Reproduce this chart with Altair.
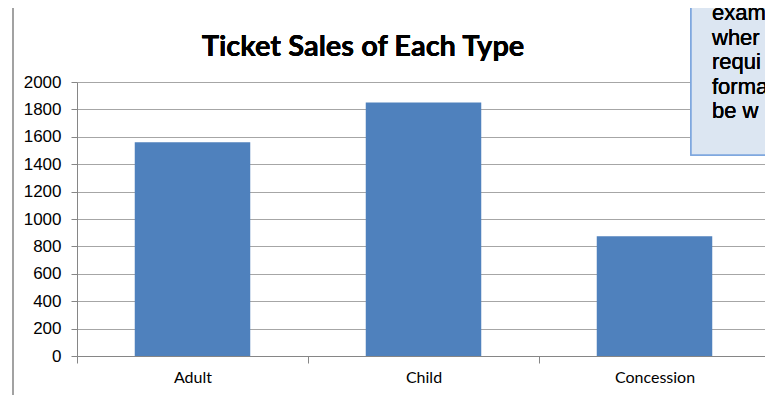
import altair as alt
import pandas as pd

categories = ["Adult", "Child", "Concession"]
sales = [1560, 1850, 875]
y_ticks = [0, 200, 400, 600, 800, 1000, 1200, 1400, 1600, 1800, 2000]
title_text = "Ticket Sales of Each Type"
textbox_lines = ["exam", "wher", "requi", "forma", "be w"]

df = pd.DataFrame({"type": categories, "sales": sales})

GRID = "#a6a6a6"
AXIS = "#868686"

base = alt.Chart(df)

bars = base.mark_bar(color="#4f81bd", width={"band": 0.5}).encode(
    x=alt.X(
        "type:N",
        sort=categories,
        scale=alt.Scale(paddingInner=0, paddingOuter=0, range=[0, 693]),
        axis=alt.Axis(
            title=None,
            labelAngle=0,
            labelFont="Lato",
            labelFontSize=16,
            labelColor="#000000",
            labelPadding=6,
            tickSize=7,
            tickColor=AXIS,
            tickBand="extent",
            domainColor=AXIS,
            grid=False,
        ),
    ),
    y=alt.Y(
        "sales:Q",
        scale=alt.Scale(domain=[0, 2000], nice=False),
        axis=alt.Axis(
            title=None,
            values=y_ticks,
            format="d",
            labelFont="Liberation Sans",
            labelFontSize=17,
            labelColor="#000000",
            labelPadding=10,
            tickSize=6,
            tickColor=AXIS,
            domainColor=AXIS,
            gridColor=GRID,
            gridWidth=1.2,
        ),
    ),
)

frame = base.mark_rule(color="#a0a0a0", strokeWidth=1.5).encode(
    x=alt.value(-64), y=alt.value(-80), y2=alt.value(330)
)

title = base.mark_text(
    font="Lato", fontSize=29, fontWeight="bold", color="#000000",
    align="center", baseline="alphabetic",
).encode(x=alt.value(286), y=alt.value(-26), text=alt.value(title_text))

box = base.mark_rect(fill="#dce6f2", stroke="#7ea6de", strokeWidth=1.5).encode(
    x=alt.value(614), x2=alt.value(720), y=alt.value(-90), y2=alt.value(73)
)

box_text = base.mark_text(
    font="Liberation Sans", fontSize=22, color="#000000",
    align="left", baseline="alphabetic", lineBreak="\n", lineHeight=24.6,
).encode(x=alt.value(635), y=alt.value(-62), text=alt.value("\n".join(textbox_lines)))

chart = alt.layer(bars, frame, title, box, box_text).properties(
    width=688,
    height=274,
    autosize=alt.AutoSizeParams(type="none"),
    padding={"left": 69, "top": 74, "right": 0, "bottom": 39},
).configure_view(stroke=None)

chart.save("out.html", embed_options={"renderer": "svg", "actions": False})
